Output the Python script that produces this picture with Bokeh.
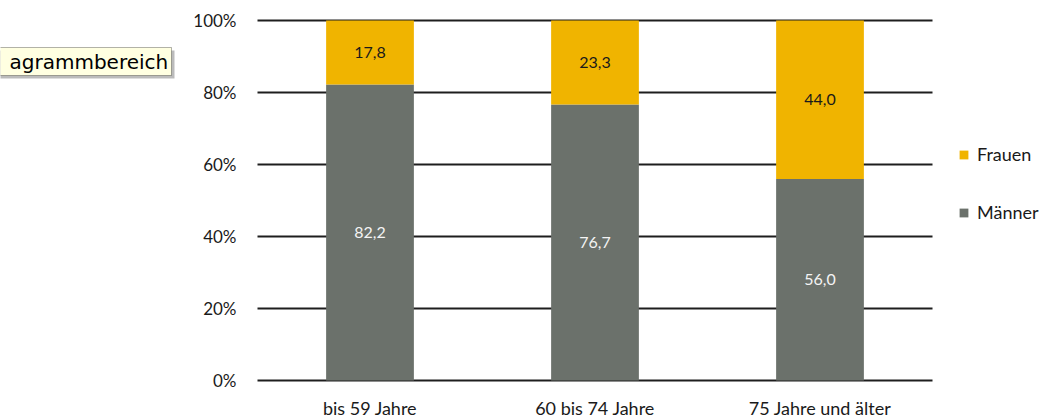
from bokeh.plotting import figure
from bokeh.models import (ColumnDataSource, Range1d, FixedTicker, PrintfTickFormatter,
                          Legend, LegendItem, LabelSet, Label, LinearAxis, BoxAnnotation)
from bokeh.core.properties import value
from bokeh.embed import file_html
from bokeh.resources import INLINE

categories = ["bis 59 Jahre", "60 bis 74 Jahre", "75 Jahre und älter"]
maenner = [82.2, 76.7, 56.0]
frauen = [17.8, 23.3, 44.0]
y_ticks = [0, 20, 40, 60, 80, 100]

C_F = "#F0B400"
C_M = "#6B716B"
FONT = "Lato"
TXT = "#1a1a1a"

W, H = 1048, 417
# plot area in pixels
PL, PR, PT, PB = 257, 932, 20, 380
n = len(categories)
ux = (PR - PL) / n
uy = (PB - PT) / 100.0
xs = list(range(n))

p = figure(width=W, height=H,
           x_range=Range1d(-0.5 - PL / ux, n - 0.5 + (W - PR) / ux),
           y_range=Range1d(-(H - PB) / uy, 100 + PT / uy),
           x_axis_location=None, y_axis_location=None,
           output_backend="svg", toolbar_location=None,
           min_border=0, min_border_left=0, min_border_right=0,
           min_border_top=0, min_border_bottom=0)
p.outline_line_color = None
p.background_fill_color = "white"
p.border_fill_color = "white"
p.grid.visible = False

# horizontal gridlines over the category extent
p.segment(x0=[-0.5] * len(y_ticks), x1=[n - 0.5] * len(y_ticks), y0=y_ticks, y1=y_ticks,
          line_color="#1e1e1e", line_width=2)

src = ColumnDataSource(dict(x=xs, Männer=maenner, Frauen=frauen))
rs = p.vbar_stack(["Männer", "Frauen"], x="x", width=0.39, source=src,
                  color=[C_M, C_F], line_color=None)

yax = LinearAxis(fixed_location=-0.5, ticker=FixedTicker(ticks=y_ticks),
                 formatter=PrintfTickFormatter(format="%d%%"))
xax = LinearAxis(fixed_location=0, ticker=FixedTicker(ticks=xs),
                 major_label_overrides={i: c for i, c in zip(xs, categories)})
for ax in (xax, yax):
    ax.axis_line_color = None
    ax.major_tick_line_color = None
    ax.minor_tick_line_color = None
    ax.major_tick_out = 0
    ax.major_tick_in = 0
    ax.major_label_text_font = FONT
    ax.major_label_text_color = TXT
yax.major_label_text_font_size = "17px"
xax.major_label_text_font_size = "18px"
yax.major_label_standoff = 21
xax.major_label_standoff = 16
p.add_layout(yax, "left")
p.add_layout(xax, "below")

# value labels
m_txt = [f"{v:.1f}".replace(".", ",") for v in maenner]
f_txt = [f"{v:.1f}".replace(".", ",") for v in frauen]
lab_src = ColumnDataSource(dict(
    x=xs + xs,
    y=[m / 2 for m in maenner] + [m + f / 2 for m, f in zip(maenner, frauen)],
    txt=m_txt + f_txt,
    col=["#f4f4f4"] * n + [TXT] * n,
))
p.add_layout(LabelSet(x="x", y="y", text="txt", source=lab_src, text_align="center",
                      text_baseline="middle", text_color="col", text_font=value(FONT),
                      text_font_size="16px"))

legend = Legend(items=[LegendItem(label="Frauen", renderers=[rs[1]]),
                       LegendItem(label="Männer", renderers=[rs[0]])],
                location=(958, H - 223), orientation="vertical",
                glyph_width=11, glyph_height=11, label_standoff=8, spacing=36,
                padding=0, margin=0, border_line_color=None, background_fill_alpha=0,
                label_text_font=FONT, label_text_font_size="18px", label_text_color=TXT)
p.add_layout(legend)

# tooltip box (screen artefact in the reference)
p.add_layout(BoxAnnotation(left=-5 + 3, right=171 + 3, top=H - 47 - 3, bottom=H - 75 - 3,
                           left_units="screen", right_units="screen",
                           top_units="screen", bottom_units="screen",
                           fill_color="#777777", fill_alpha=0.5, line_color=None))
p.add_layout(BoxAnnotation(left=-5, right=171, top=H - 47, bottom=H - 75,
                           left_units="screen", right_units="screen",
                           top_units="screen", bottom_units="screen",
                           fill_color="#FFFFE1", fill_alpha=1, line_color="black",
                           line_width=1))
p.add_layout(Label(x=9, y=H - 61, x_units="screen", y_units="screen",
                   text="agrammbereich", text_font="DejaVu Sans", text_font_size="20px",
                   text_baseline="middle", text_color="black"))

open("out.html", "w").write(file_html(p, INLINE))
